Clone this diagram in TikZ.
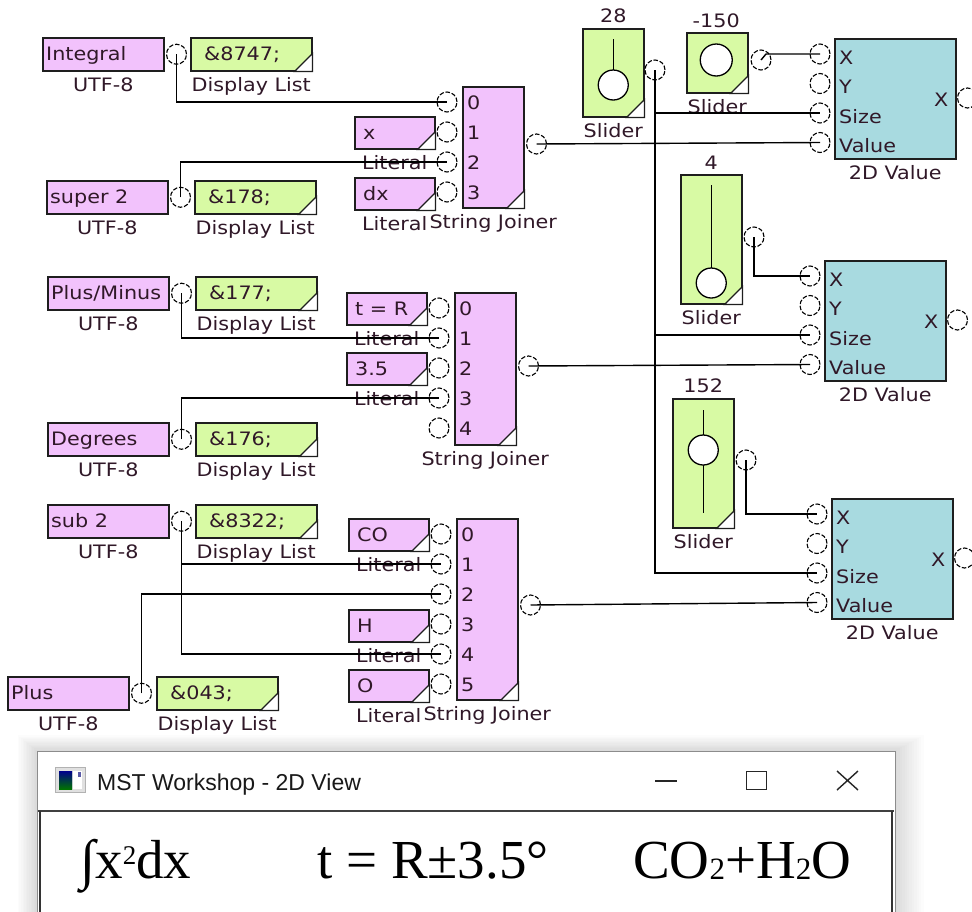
\documentclass[tikz,border=0pt]{standalone}
\usepackage{fontspec}
\setmainfont{DejaVu Sans}[FakeStretch=1.12]
\newfontfamily\titlefont{Liberation Sans}
\newfontfamily\viewfont{Liberation Serif}
\usetikzlibrary{calc}
\definecolor{pinkc}{RGB}{242,194,252}
\definecolor{greenc}{RGB}{216,250,164}
\definecolor{tealc}{RGB}{168,218,224}
\definecolor{labc}{RGB}{48,24,40}
\definecolor{edgec}{RGB}{30,30,30}
\tikzset{
  every node/.style={font=\fontsize{18.5}{20}\selectfont, text=labc},
  blk/.style={draw=edgec, line width=1.5pt, anchor=north west, inner sep=0pt},
  utf/.style={blk, fill=pinkc, minimum width=121pt, minimum height=33pt},
  dlist/.style={blk, fill=greenc, minimum width=121pt, minimum height=33pt},
  litb/.style={blk, fill=pinkc, minimum width=80pt, minimum height=32pt},
  sjb/.style={blk, fill=pinkc, minimum width=61pt},
  slb/.style={blk, fill=greenc, minimum width=61pt},
  tbox/.style={blk, fill=tealc, minimum width=121pt, minimum height=120pt},
  port/.style={circle, draw=black, line width=1.1pt, dash pattern=on 4.5pt off 1.8pt, minimum size=20pt, inner sep=0pt},
  wire/.style={draw=black, line width=1.4pt},
  knobl/.style={draw=black, line width=1.4pt},
  knobc/.style={draw=black, line width=1.3pt, fill=white},
  lab/.style={anchor=base, inner sep=0pt},
  txt/.style={anchor=base west, inner sep=0pt},
}
\newcommand\cornertri[1]{\filldraw[fill=white,draw=edgec,line width=1.2pt] (#1.south east) -- ++(-18,0) -- ++(18,-18) -- cycle;}
\newcommand\utfblk[4]{%
  \node[utf] (#1) at (#2,#3) {};
  \node[txt] at ($(#1.west)+(4,6.5)$) {#4};
  \node[lab] at ($(#1.south)+(0,20)$) {UTF-8};
  \node[port] (#1p) at ($(#1.east)+(12,0)$) {};}
\newcommand\dlblk[4]{%
  \node[dlist] (#1) at (#2,#3) {};
  \cornertri{#1}
  \node[txt] at ($(#1.west)+(14,6.5)$) {#4};
  \node[lab] at ($(#1.south)+(0,20)$) {Display List};}
\newcommand\litblk[4]{%
  \node[litb] (#1) at (#2,#3) {};
  \cornertri{#1}
  \node[txt] at ($(#1.west)+(9,6.5)$) {#4};
  \node[lab] at ($(#1.south)+(0,20)$) {Literal};}
\newcommand\sjblk[6]{% name x y height lastindex outy
  \node[sjb, minimum height=#4pt] (#1) at (#2,#3) {};
  \cornertri{#1}
  \foreach \i in {0,...,#5} {
    \node[port] (#1i\i) at ($(#1.north west)+(-15,{16+30*\i})$) {};
    \node[txt] at ($(#1.north west)+(5,{23+30*\i})$) {\i};
  }
  \node[port] (#1o) at ($(#1.east |- 0,#6)+(12,0)$) {};
  \node[lab] at ($(#1.south)+(0,20)$) {String Joiner};}
\newcommand\twodblk[3]{%
  \node[tbox] (#1) at (#2,#3) {};
  \foreach \lbl [count=\j from 0] in {X,Y,Size,Value} {
    \node[port] (#1i\j) at ($(#1.north west)+(-14,{16+29.5*\j})$) {};
    \node[txt] at ($(#1.north west)+(5,{26+29.5*\j})$) {\lbl};
  }
  \node[port] (#1o) at ($(#1.north east)+(11,60)$) {};
  \node[txt, anchor=base east] at ($(#1.north east)+(-8,68)$) {X};
  \node[lab] at ($(#1.south)+(0,20)$) {2D Value};}
\begin{document}
\begin{tikzpicture}[x=1pt,y=-1pt]
\useasboundingbox[fill=white] (0,0) rectangle (972,911);

% UTF-8 blocks and display lists
\utfblk{u1}{42}{37}{Integral}
\dlblk{d1}{190}{37}{\&8747;}
\utfblk{u2}{46}{180}{super 2}
\dlblk{d2}{194}{180}{\&178;}
\utfblk{u3}{47}{276}{Plus/Minus}
\dlblk{d3}{195}{276}{\&177;}
\utfblk{u4}{47}{422}{Degrees}
\dlblk{d4}{195}{422}{\&176;}
\utfblk{u5}{47}{504}{sub 2}
\dlblk{d5}{195}{504}{\&8322;}
\utfblk{u6}{7}{676}{Plus}
\dlblk{d6}{156}{676}{\&043;}

% Literals
\litblk{l1}{354}{116}{x}
\litblk{l2}{354}{177}{dx}
\litblk{l3}{346}{292}{t = R}
\litblk{l4}{346}{352}{3.5}
\litblk{l5}{348}{518}{CO}
\litblk{l6}{348}{609}{H}
\litblk{l7}{348}{669}{O}

% String joiners
\sjblk{sja}{462}{86}{121}{3}{144}
\sjblk{sjb}{454}{292}{152}{4}{366}
\sjblk{sjc}{456}{518}{181}{5}{605}

% Sliders
\node[slb, minimum height=88pt] (s1) at (582,28) {};
\cornertri{s1}
\draw[knobl] ($(s1.north)+(0,11)$) -- ($(s1.north)+(0,42)$);
\draw[knobc] ($(s1.north)+(0,57)$) circle[radius=15pt];
\node[lab] at ($(s1.north)+(0,-6)$) {28};
\node[lab] at ($(s1.south)+(0,20)$) {Slider};
\node[port] (s1p) at (655,70) {};

\node[slb, minimum height=60pt] (s2) at (686,32) {};
\cornertri{s2}
\draw[knobc] ($(s2.north)+(-1,28)$) circle[radius=16pt];
\node[lab] at ($(s2.north)+(-1,-5)$) {-150};
\node[lab] at ($(s2.south)+(0,20)$) {Slider};
\node[port] (s2p) at (761,60) {};

\node[slb, minimum height=129pt] (s3) at (680,174) {};
\cornertri{s3}
\draw[knobl] ($(s3.north)+(0,11)$) -- ($(s3.north)+(0,94)$);
\draw[knobc] ($(s3.north)+(0,109)$) circle[radius=15pt];
\node[lab] at ($(s3.north)+(0,-5)$) {4};
\node[lab] at ($(s3.south)+(0,20)$) {Slider};
\node[port] (s3p) at (754,237) {};

\node[slb, minimum height=129pt] (s4) at (672,398) {};
\cornertri{s4}
\draw[knobl] ($(s4.north)+(0,12)$) -- ($(s4.north)+(0,115)$);
\draw[knobc] ($(s4.north)+(0,52)$) circle[radius=15pt];
\node[lab] at ($(s4.north)+(0,-6)$) {152};
\node[lab] at ($(s4.south)+(0,20)$) {Slider};
\node[port] (s4p) at (746,460) {};

% 2D values
\twodblk{va}{834}{38}
\twodblk{vb}{824}{260}
\twodblk{vc}{831}{498}

% Wires
\draw[wire] (u1p.center) |- (sjai0.center);
\draw[wire] (u2p.center) |- (sjai2.center);
\draw[wire] (u3p.center) |- (sjbi1.center);
\draw[wire] (u4p.center) |- (sjbi3.center);
\draw[wire] (u5p.center) |- (sjci1.center);
\draw[wire] (u5p.center) |- (sjci4.center);
\draw[wire] (u6p.center) |- (sjci2.center);
\draw[wire] (sjao.center) -- (vai3.center);
\draw[wire] (sjbo.center) -- (vbi3.center);
\draw[wire] (sjco.center) -- (vci3.center);
\draw[wire] (s1p.center) |- (vci2.center);
\draw[wire] (s1p.center |- vai2.center) -- (vai2.center);
\draw[wire] (s1p.center |- vbi2.center) -- (vbi2.center);
\draw[wire] (s2p.center) -- ([xshift=5pt]s2p.center |- vai0.center) -- (vai0.center);
\draw[wire] (s3p.center) |- (vbi0.center);
\draw[wire] (s4p.center) |- (vci0.center);

% Window shadow
\foreach \k in {1,...,12} {
  \fill[black, opacity=0.011] ({37-\k*1.6},{751-\k*1.3}) rectangle ({895+\k*2.4},930);
}
% Window
\filldraw[fill=white, draw=black!45, line width=1pt] (37,751) rectangle (895,930);
\draw[line width=1.6pt, draw=black!75] (38,811) -- (894,811);
\draw[line width=2pt, draw=black!80] (40,811) -- (40,930);
\draw[line width=2pt, draw=black!80] (892,811) -- (892,930);

% Icon
\node[draw=black!30, fill=black!12, line width=0.8pt, minimum width=30pt, minimum height=25pt, anchor=north west, inner sep=0pt] (icon) at (55,767) {};
\fill[top color=blue!55!black, bottom color=green!45!black] (59,771) rectangle (72,789);
\fill[white] (73,771) rectangle (82,789);
\fill[blue!30!gray] (78,772) rectangle (81,777);

\node[anchor=base west, inner sep=0pt, font=\titlefont\fontsize{23}{25}\selectfont, text=black!90] (title) at (97,790) {MST Workshop - 2D View};

% Window buttons
\draw[line width=1.4pt, black!85] (655,781) -- (677,781);
\node[draw=black!85, line width=1.4pt, minimum width=20pt, minimum height=18pt, anchor=north west, inner sep=0pt] (maxb) at (746,771) {};
\draw[line width=1.4pt, black!85] (837,771) -- (858,790) (837,790) -- (858,771);

% View content
\tikzset{viewtxt/.style={anchor=base west, inner sep=0pt, font=\viewfont\fontsize{55}{60}\selectfont, text=black}}
\node[viewtxt] (e1) at (80,878) {∫x\raisebox{14pt}{\fontsize{27}{27}\selectfont 2}dx};
\node[viewtxt] (e2) at (317,878) {t = R±3.5°};
\node[viewtxt] (e3) at (633,878) {CO\raisebox{-1pt}{\fontsize{31}{31}\selectfont 2}+H\raisebox{-1pt}{\fontsize{31}{31}\selectfont 2}O};
\end{tikzpicture}
\end{document}
